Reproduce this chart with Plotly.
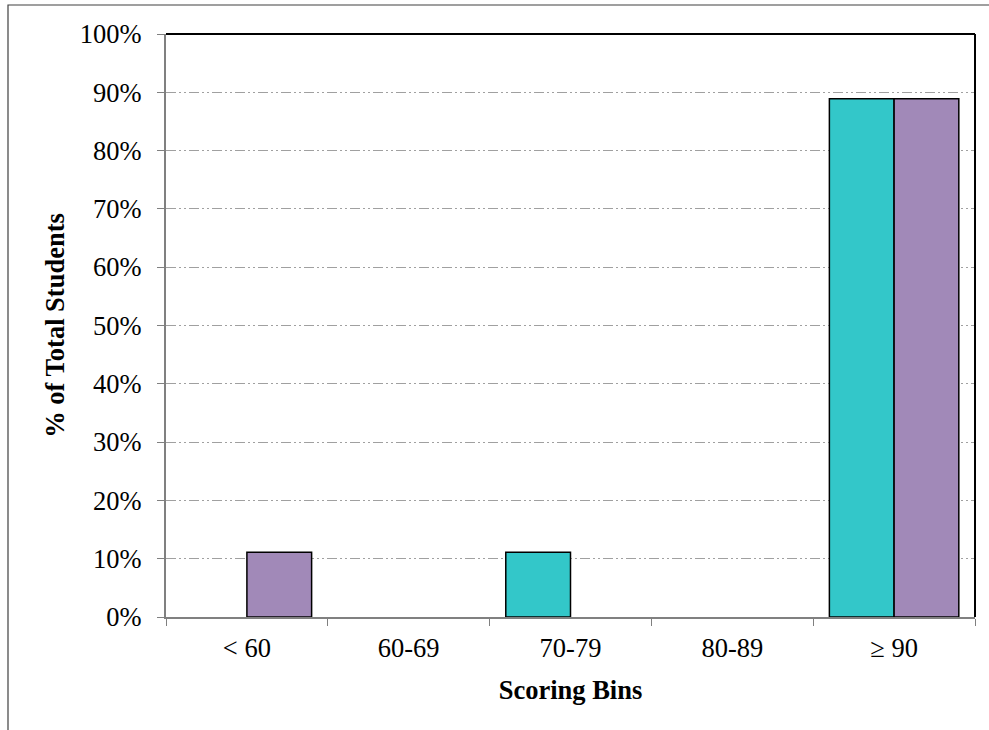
import plotly.graph_objects as go

categories = ["< 60", "60-69", "70-79", "80-89", "≥ 90"]
series_a = [0, 0, 11.1, 0, 88.9]
series_b = [11.1, 0, 0, 0, 88.9]
y_ticks = [0, 10, 20, 30, 40, 50, 60, 70, 80, 90, 100]
y_tick_labels = [f"{v}%" for v in y_ticks]

FONT = "Liberation Serif, Times New Roman, serif"
FS = 26.5

def hide_zero(vals):
    return [v if v != 0 else None for v in vals]

fig = go.Figure()
fig.add_trace(go.Bar(x=categories, y=hide_zero(series_a), name="A",
                     marker=dict(color="#33C7C9", line=dict(color="black", width=1.5))))
fig.add_trace(go.Bar(x=categories, y=hide_zero(series_b), name="B",
                     marker=dict(color="#A189B8", line=dict(color="black", width=1.5))))

L, R, T, B = 166, 14, 34, 113
W, H = 989, 730
pw, ph = W - L - R, H - T - B

fig.update_layout(
    width=W, height=H,
    margin=dict(l=L, r=R, t=T, b=B),
    paper_bgcolor="white", plot_bgcolor="white",
    barmode="group", bargap=0.2, bargroupgap=0,
    showlegend=False,
    font=dict(family=FONT, size=FS, color="black"),
    xaxis=dict(
        type="category", tickson="boundaries", ticks="outside", ticklen=7,
        tickcolor="#808080", showline=True, linecolor="#808080", linewidth=2,
        showgrid=False, tickfont=dict(size=FS), ticklabelstandoff=6,
        title=dict(text="<b>Scoring Bins</b>", font=dict(size=FS), standoff=19),
    ),
    yaxis=dict(
        range=[0, 100], tickmode="array", tickvals=y_ticks, ticktext=y_tick_labels,
        ticks="outside", ticklen=7, tickfont=dict(size=FS), ticklabelstandoff=10,
        tickcolor="#808080", showline=True, linecolor="#808080", linewidth=2,
        showgrid=True, gridcolor="#A0A0A0", gridwidth=1.3,
        griddash="10px,3px,2px,3px,2px,3px",
        zeroline=False,
        title=dict(text="<b>% of Total Students</b>", font=dict(size=FS), standoff=8),
    ),
    shapes=[
        dict(type="line", xref="paper", yref="paper", x0=0, x1=1, y0=1, y1=1,
             line=dict(color="black", width=2)),
        dict(type="line", xref="paper", yref="paper", x0=1, x1=1, y0=0, y1=1,
             line=dict(color="black", width=2)),
        dict(type="rect", xref="paper", yref="paper",
             x0=(8 - L) / pw, x1=(W + 10 - L) / pw,
             y0=-(H + 10 - T - ph) / ph, y1=1 + (T - 5) / ph,
             line=dict(color="#404040", width=1.2)),
    ],
)

fig.write_html("out.html", config={"displayModeBar": False},
               post_script="document.body.style.margin='0';document.body.style.overflow='hidden';")
